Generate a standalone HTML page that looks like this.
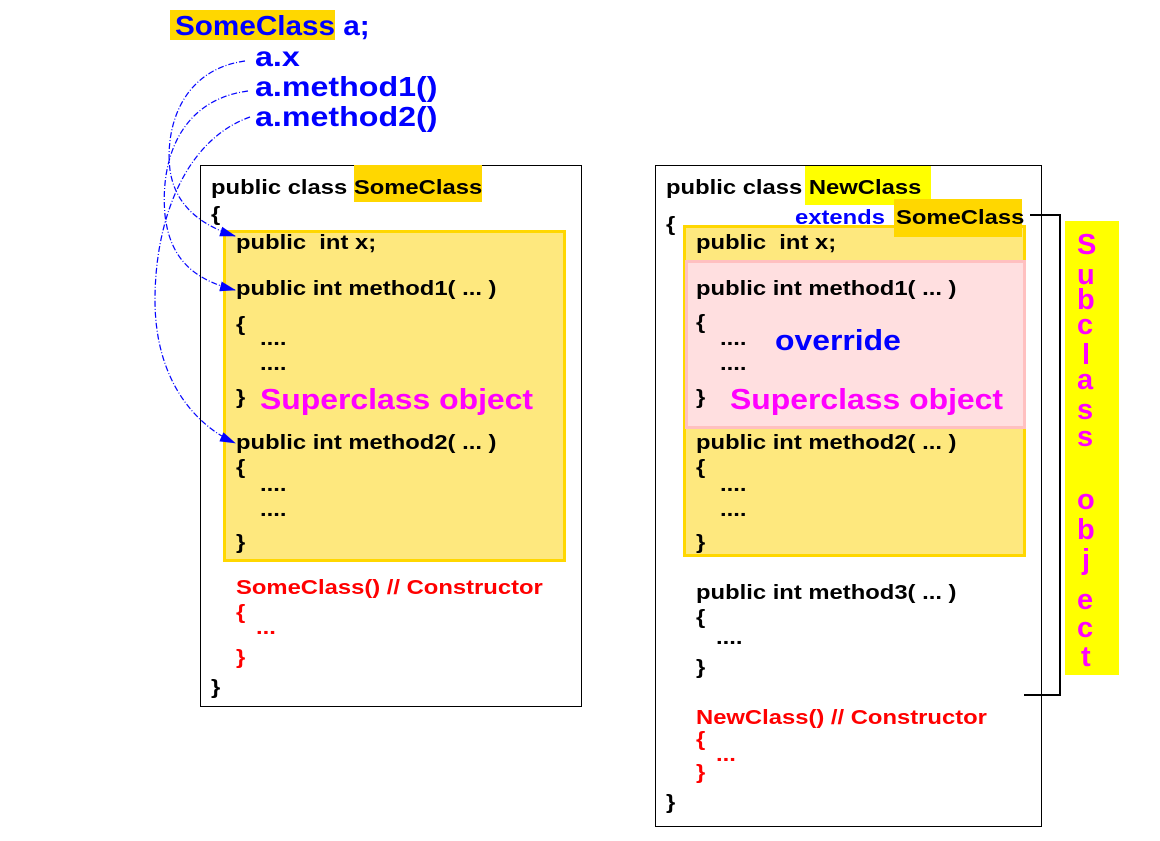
<!DOCTYPE html>
<html><head><meta charset="utf-8"><style>
body{margin:0;width:1160px;height:841px;background:#fff;position:relative;overflow:hidden;font-family:"Liberation Sans",sans-serif;font-weight:bold}
.a{position:absolute;white-space:pre;line-height:1;transform-origin:0 0}
.c{font-size:20px;color:#000;transform:scaleX(1.19)}
.r{color:#f00}
.m{color:#f0f;font-size:29px;transform:scaleX(1.1)}
.v{color:#f0f;font-size:29px}
.b{color:#00f}
.t{font-size:28px;transform:scaleX(1.15)}
.box{position:absolute;border:1px solid #000}
</style></head><body>
<div class="box" style="left:200px;top:165px;width:380px;height:540px"></div>
<div class="box" style="left:655px;top:165px;width:385px;height:660px"></div>
<div style="position:absolute;left:223px;top:230px;width:337px;height:326px;background:#fee87e;border:3px solid #ffd700"></div>
<div style="position:absolute;left:683px;top:225px;width:337px;height:326px;background:#fee87e;border:3px solid #ffd700"></div>
<div style="position:absolute;left:685px;top:260px;width:335px;height:163px;background:#ffdfe0;border:3px solid #ffc0c0"></div>
<div style="position:absolute;left:1065px;top:221px;width:54px;height:454px;background:#ffff00"></div>
<div style="position:absolute;left:170px;top:10px;width:165px;height:30px;background:#ffd700"></div>
<div style="position:absolute;left:354px;top:165px;width:128px;height:37px;background:#ffd700"></div>
<div style="position:absolute;left:805px;top:166px;width:126px;height:39px;background:#ffff00"></div>
<div style="position:absolute;left:894px;top:199px;width:128px;height:38px;background:#ffd700"></div>
<svg style="position:absolute;left:0;top:0" width="1160" height="841">
<defs><marker id="ar" markerWidth="16" markerHeight="10" refX="15" refY="5" orient="auto" markerUnits="userSpaceOnUse"><path d="M0,0L16,5L0,10z" fill="#00f"/></marker></defs>
<g fill="none" stroke="#00f" stroke-width="1.2" stroke-dasharray="6,2,1,2">
<path d="M245,61 C180,70 165,130 170,170 C175,205 200,225 235,236" marker-end="url(#ar)"/>
<path d="M248,91 C180,100 160,160 165,215 C170,260 195,280 235,290" marker-end="url(#ar)"/>
<path d="M250,117 C185,140 155,220 155,300 C155,380 195,425 235,443" marker-end="url(#ar)"/>
</g>
<path d="M1030,215H1060V695H1024" fill="none" stroke="#000" stroke-width="2"/>
</svg>
<div class="a b" style="left:175px;top:12px;font-size:28px;transform:scaleX(1.06)">SomeClass a;</div>
<div class="a b t" style="left:255px;top:43px">a.x</div>
<div class="a b t" style="left:255px;top:73px">a.method1()</div>
<div class="a b t" style="left:255px;top:103px">a.method2()</div>

<div class="a c" style="left:211px;top:178px">public class SomeClass</div>
<div class="a c" style="left:211px;top:205px">{</div>
<div class="a c" style="left:236px;top:233px">public  int x;</div>
<div class="a c" style="left:236px;top:279px">public int method1( ... )</div>
<div class="a c" style="left:236px;top:315px">{</div>
<div class="a c" style="left:260px;top:329px">....</div>
<div class="a c" style="left:260px;top:354px">....</div>
<div class="a c" style="left:236px;top:388px">}</div>
<div class="a m" style="left:260px;top:386px">Superclass object</div>
<div class="a c" style="left:236px;top:433px">public int method2( ... )</div>
<div class="a c" style="left:236px;top:458px">{</div>
<div class="a c" style="left:260px;top:475px">....</div>
<div class="a c" style="left:260px;top:500px">....</div>
<div class="a c" style="left:236px;top:533px">}</div>
<div class="a c r" style="left:236px;top:578px">SomeClass() // Constructor</div>
<div class="a c r" style="left:236px;top:603px">{</div>
<div class="a c r" style="left:256px;top:618px">...</div>
<div class="a c r" style="left:236px;top:648px">}</div>
<div class="a c" style="left:211px;top:678px">}</div>

<div class="a c" style="left:666px;top:178px">public class NewClass</div>
<div class="a c b" style="left:795px;top:208px">extends</div>
<div class="a c" style="left:896px;top:208px">SomeClass</div>
<div class="a c" style="left:666px;top:215px">{</div>
<div class="a c" style="left:696px;top:233px">public  int x;</div>
<div class="a c" style="left:696px;top:279px">public int method1( ... )</div>
<div class="a c" style="left:696px;top:313px">{</div>
<div class="a c" style="left:720px;top:329px">....</div>
<div class="a c" style="left:720px;top:354px">....</div>
<div class="a c" style="left:696px;top:388px">}</div>
<div class="a b" style="left:775px;top:327px;font-size:29px;transform:scaleX(1.1)">override</div>
<div class="a m" style="left:730px;top:386px">Superclass object</div>
<div class="a c" style="left:696px;top:433px">public int method2( ... )</div>
<div class="a c" style="left:696px;top:458px">{</div>
<div class="a c" style="left:720px;top:475px">....</div>
<div class="a c" style="left:720px;top:500px">....</div>
<div class="a c" style="left:696px;top:533px">}</div>
<div class="a c" style="left:696px;top:583px">public int method3( ... )</div>
<div class="a c" style="left:696px;top:608px">{</div>
<div class="a c" style="left:716px;top:628px">....</div>
<div class="a c" style="left:696px;top:658px">}</div>
<div class="a c r" style="left:696px;top:708px">NewClass() // Constructor</div>
<div class="a c r" style="left:696px;top:730px">{</div>
<div class="a c r" style="left:716px;top:745px">...</div>
<div class="a c r" style="left:696px;top:763px">}</div>
<div class="a c" style="left:666px;top:793px">}</div>

<div class="a v" style="left:1077px;top:231px">S</div>
<div class="a v" style="left:1077px;top:261px">u</div>
<div class="a v" style="left:1077px;top:286px">b</div>
<div class="a v" style="left:1077px;top:311px">c</div>
<div class="a v" style="left:1082px;top:341px">l</div>
<div class="a v" style="left:1077px;top:366px">a</div>
<div class="a v" style="left:1077px;top:396px">s</div>
<div class="a v" style="left:1077px;top:423px">s</div>
<div class="a v" style="left:1077px;top:486px">o</div>
<div class="a v" style="left:1077px;top:516px">b</div>
<div class="a v" style="left:1082px;top:546px">j</div>
<div class="a v" style="left:1077px;top:586px">e</div>
<div class="a v" style="left:1077px;top:614px">c</div>
<div class="a v" style="left:1081px;top:643px">t</div>
</body></html>
